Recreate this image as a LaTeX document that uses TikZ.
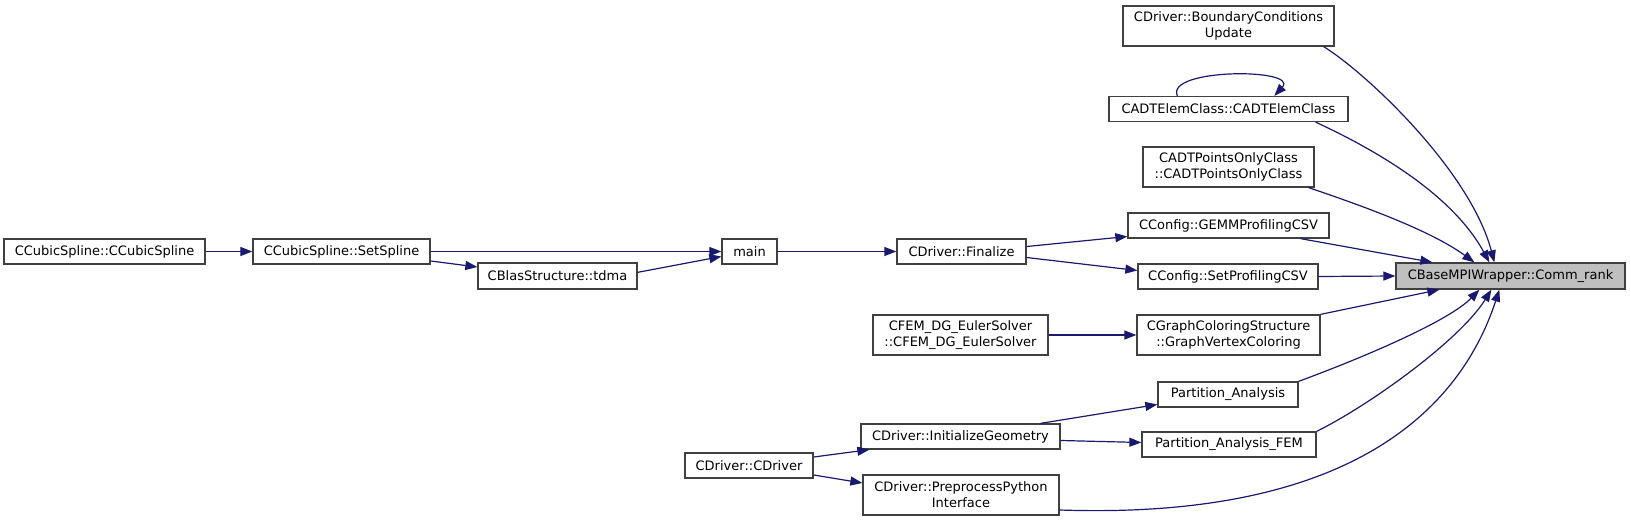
\documentclass[tikz,border=0pt]{standalone}
\usepackage{fontspec}
\setmainfont{DejaVu Sans}
\usetikzlibrary{arrows.meta}
\definecolor{edgeblue}{HTML}{191970}
\definecolor{boxgray}{HTML}{404040}
\definecolor{fillgray}{HTML}{BFBFBF}
\newcommand{\drawFnBox}[6]{
	\node[fnbox, minimum width=#4pt, minimum height=#5pt, fill=#6] (#1) at (#2) {#3};
}

\begin{document}
\begin{tikzpicture}[x=1pt, y=-1pt,
	fnbox/.style={draw=boxgray, line width=1.3pt, font=\fontsize{13}{16}\selectfont, align=center, inner xsep=3pt, inner ysep=0pt},
	callarrow/.style={>={Triangle[length=12pt,width=9pt]}, ->, draw=edgeblue, line width=1.2pt}]

		\useasboundingbox (0,0) rectangle (1631,521);

		% callers of Comm_rank
		\drawFnBox{bcu}{1228.5,26}{CDriver::BoundaryConditions\\Update}{211}{40}{white}
		\drawFnBox{adtelem}{1228.5,109}{CADTElemClass::CADTElemClass}{239}{25}{white}
		\drawFnBox{adtpts}{1228.5,167}{CADTPointsOnlyClass\\::CADTPointsOnlyClass}{171}{40}{white}
		\drawFnBox{gemm}{1228.5,225.5}{CConfig::GEMMProfilingCSV}{201}{25}{white}
		\drawFnBox{setprof}{1228,276.5}{CConfig::SetProfilingCSV}{180}{25}{white}
		\drawFnBox{gvc}{1228.5,335}{CGraphColoringStructure\\::GraphVertexColoring}{183}{40}{white}
		\drawFnBox{pa}{1228,394.5}{Partition\_Analysis}{140}{25}{white}
		\drawFnBox{pafem}{1229,444.5}{Partition\_Analysis\_FEM}{174}{25}{white}
		\drawFnBox{commrank}{1510.5,276}{CBaseMPIWrapper::Comm\_rank}{229}{26}{fillgray}

		% second column
		\drawFnBox{finalize}{961.5,251.5}{CDriver::Finalize}{129}{25}{white}
		\drawFnBox{cfem}{960.5,335}{CFEM\_DG\_EulerSolver\\::CFEM\_DG\_EulerSolver}{175}{40}{white}
		\drawFnBox{initgeom}{960.5,436.5}{CDriver::InitializeGeometry}{199}{25}{white}
		\drawFnBox{python}{961,495}{CDriver::PreprocessPython\\Interface}{196}{40}{white}

		% left part
		\drawFnBox{main}{749.5,251.5}{main}{55}{25}{white}
		\drawFnBox{cdriver}{749,465.5}{CDriver::CDriver}{128}{25}{white}
		\drawFnBox{tdma}{557.5,276}{CBlasStructure::tdma}{159}{26}{white}
		\drawFnBox{setspline}{341.5,251.5}{CCubicSpline::SetSpline}{177}{25}{white}
		\drawFnBox{ccubic}{104.5,251.5}{CCubicSpline::CCubicSpline}{201}{25}{white}

		\draw[callarrow] ([xshift=-11pt]bcu.south east) .. controls (1365,72) and (1470,170) .. ([xshift=99pt]commrank.north west);
		\draw[callarrow] ([xshift=69pt]adtelem.north west) .. controls (1165,68) and (1300,68) .. ([xshift=166pt]adtelem.north west);
		\draw[callarrow] ([xshift=-33pt]adtelem.south east) .. controls (1365,145) and (1450,190) .. ([xshift=94pt]commrank.north west);
		\draw[callarrow] ([xshift=-6pt]adtpts.south east) .. controls (1360,205) and (1430,230) .. ([xshift=79pt]commrank.north west);
		\draw[callarrow] ([xshift=-29pt]gemm.south east) -- ([xshift=37pt]commrank.north west);
		\draw[callarrow] (setprof.east) -- (commrank.west);
		\draw[callarrow] (gvc.north east) -- ([xshift=44pt]commrank.south west);
		\draw[callarrow] (pa.north east) .. controls (1370,355) and (1450,320) .. ([xshift=84pt]commrank.south west);
		\draw[callarrow] (pafem.north east) .. controls (1370,405) and (1460,340) .. ([xshift=96pt]commrank.south west);
		\draw[callarrow] ([yshift=-15pt]python.east) .. controls (1350,520) and (1460,410) .. ([xshift=104pt]commrank.south west);

		\draw[callarrow] ([yshift=5pt]finalize.east) -- ([yshift=-11pt]gemm.west);
		\draw[callarrow] ([yshift=-6pt]finalize.east) -- ([yshift=6pt]setprof.west);
		\draw[callarrow] (cfem.east) -- (gvc.west);
		\draw[callarrow] ([xshift=-20pt]initgeom.north east) -- ([yshift=-10pt]pa.west);
		\draw[callarrow] ([yshift=-4pt]initgeom.east) -- ([yshift=2pt]pafem.west);

		\draw[callarrow] (main.east) -- (finalize.west);
		\draw[callarrow] ([yshift=8.5pt]cdriver.east) -- ([xshift=9pt]initgeom.south west);
		\draw[callarrow] ([yshift=-9.5pt]cdriver.east) -- ([yshift=12pt]python.west);
		\draw[callarrow] ([yshift=-10pt]tdma.north east) -- ([yshift=-5pt]main.west);
		\draw[callarrow] (setspline.east) -- (main.west);
		\draw[callarrow] ([yshift=-9.5pt]setspline.east) -- ([yshift=9pt]tdma.west);
		\draw[callarrow] (ccubic.east) -- (setspline.west);

	\end{tikzpicture}
\end{document}
